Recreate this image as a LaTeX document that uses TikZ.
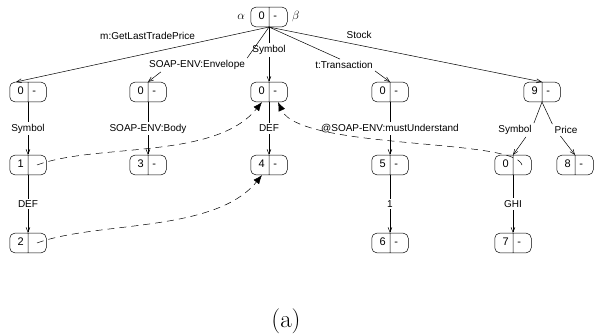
\documentclass[tikz,border=0pt]{standalone}
\usepackage{fontspec}
\newfontfamily\helv{Liberation Sans}
\usepackage{tikz}
\usetikzlibrary{arrows.meta,shapes,positioning}
\newcommand{\cellv}[2]{\makebox[10pt][r]{\strut#1}\nodepart{two}\makebox[10pt][l]{\strut#2}}

\begin{document}
\begin{tikzpicture}[
        x=1pt, y=-1pt, line width=0.5pt,
        cell/.style={draw, rectangle split, rectangle split horizontal, rectangle split parts=2,
            rounded corners=5pt, inner xsep=4pt, inner ysep=3pt, font=\helv\fontsize{11}{13.6}\selectfont},
        lbl/.style={font=\helv, inner sep=2pt},
        cut/.style={lbl, fill=white},
        greek/.style={font=\fontsize{13}{15}\selectfont},
        edge/.style={-{Straight Barb[length=5pt,width=4pt]}},
        ptr/.style={dash pattern=on 7pt off 5pt, -{Latex[length=9pt,width=7pt]}}
    ]
        \useasboundingbox (0,0) rectangle (594,336);

        % Level 1
        \node[cell] (A) at (269,17) {\cellv{0}{-}};
        \node[greek, left=2pt of A] (alpha) {$\alpha$};
        \node[greek, right=1pt of A] (beta) {$\beta$};

        % Level 2
        \node[cell] (B) at (28,92) {\cellv{0}{-}};
        \node[cell] (C) at (148,92) {\cellv{0}{-}};
        \node[cell] (D) at (269,92) {\cellv{0}{-}};
        \node[cell] (E) at (390,92) {\cellv{0}{-}};
        \node[cell] (F) at (542,92) {\cellv{9}{-}};

        % Level 3
        \node[cell] (G) at (28,165) {\cellv{1}{}};
        \node[cell] (H) at (148,165) {\cellv{3}{-}};
        \node[cell] (I) at (269,165) {\cellv{4}{-}};
        \node[cell] (J) at (390,165) {\cellv{5}{-}};
        \node[cell] (K) at (513,165) {\cellv{0}{}};
        \node[cell] (L) at (575,165) {\cellv{8}{-}};

        % Level 4
        \node[cell] (M) at (28,243) {\cellv{2}{}};
        \node[cell] (N) at (390,243) {\cellv{6}{-}};
        \node[cell] (O) at (513,243) {\cellv{7}{-}};

        % Edges from the root
        \draw[edge] (A.south) -- node[lbl, above=12pt, pos=0.48] (lB) {m:GetLastTradePrice} (B.140);
        \node[lbl] (lC) at (197,65) {SOAP-ENV:Envelope};
        \draw (A.south) -- (lC.north east);
        \draw[edge] ([xshift=14pt]lC.south west) -- (C.north);
        \node[lbl] (lD) at (269,50) {Symbol};
        \draw (A.south) -- (lD);
        \draw[edge] (lD) -- (D);
        \node[lbl] (lE) at (344,65) {t:Transaction};
        \draw (A.south) -- ([xshift=-4pt]lE.north);
        \draw[edge] (lE.south east) -- (E.north);
        \draw[edge] (A.south) -- node[lbl, above=4pt, pos=0.33] (lF) {Stock} (F.north);

        % Level 2 to level 3
        \draw[edge] (B) -- node[cut] (lG) {Symbol} (G);
        \draw[edge] (C) -- node[cut] (lH) {SOAP-ENV:Body} (H);
        \draw[edge] (D) -- node[cut] (lI) {DEF} (I);
        \draw[edge] (E) -- node[cut] (lJ) {@SOAP-ENV:mustUnderstand} (J);
        \node[lbl] (lK) at (515,130) {Symbol};
        \node[lbl] (lL) at (566,130) {Price};
        \draw (F.south) -- (lK.north east);
        \draw (F.south) -- (lL.north west);
        \draw[edge] ([xshift=-8pt]lK.south east) -- (K.north);
        \draw[edge] ([xshift=8pt]lL.south west) -- (L.north);

        % Level 3 to level 4
        \draw[edge] (G) -- node[cut] (lM) {DEF} (M);
        \draw[edge] (J) -- node[cut] (lN) {1} (N);
        \draw[edge] (K) -- node[cut] (lO) {GHI} (O);

        % Pointers
        \draw[ptr] ([xshift=9pt]G.center) .. controls +(60,-22) and +(-47,58) .. ([xshift=-7pt]D.south);
        \draw[ptr] ([xshift=9pt]M.center) .. controls +(60,-22) and +(-47,58) .. ([xshift=-7pt]I.south);
        \draw[ptr] ([xshift=9pt]K.center) .. controls +(-7,-27) and +(22,48) .. ([xshift=9pt]D.south);

        % Caption
        \node[font=\fontsize{25}{30}\selectfont] (cap) at (286,321) {(a)};
    \end{tikzpicture}
\end{document}
